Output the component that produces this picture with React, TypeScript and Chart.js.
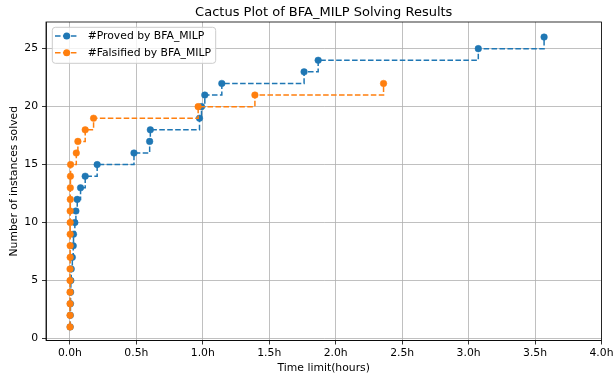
import { useEffect, useRef } from "react";
import { Chart, registerables } from "chart.js";

Chart.register(...registerables);

const FONT = "DejaVu Sans";

const titleText = "Cactus Plot of BFA_MILP Solving Results";
const xLabel = "Time limit(hours)";
const yLabel = "Number of instances solved";
const seriesNames = ["#Proved by BFA_MILP", "#Falsified by BFA_MILP"];
const seriesColors = ["#1f77b4", "#ff7f0e"];

// Proved by BFA_MILP: time (hours) at which the n-th instance was solved
const provedTimes = [
  0.002, 0.003, 0.004, 0.005, 0.007, 0.01, 0.018, 0.025, 0.027, 0.037,
  0.045, 0.055, 0.08, 0.115, 0.205, 0.482, 0.6, 0.605, 0.975, 0.99,
  1.015, 1.143, 1.762, 1.868, 3.073, 3.568,
];
const provedCounts = [
  1, 2, 3, 4, 5, 6, 7, 8, 9, 10, 11, 12, 13, 14, 15, 16, 17, 18, 19, 20,
  21, 22, 23, 24, 25, 26,
];

// Falsified by BFA_MILP
const falsifiedTimes = [
  0.001, 0.001, 0.001, 0.001, 0.001, 0.001, 0.002, 0.002, 0.002, 0.002,
  0.002, 0.003, 0.003, 0.004, 0.005, 0.048, 0.06, 0.115, 0.178, 0.965,
  1.392, 2.36,
];
const falsifiedCounts = [
  1, 2, 3, 4, 5, 6, 7, 8, 9, 10, 11, 12, 13, 14, 15, 16, 17, 18, 19, 20,
  21, 22,
];

const xTicks = [0, 0.5, 1.0, 1.5, 2.0, 2.5, 3.0, 3.5, 4.0];
const yTicks = [0, 5, 10, 15, 20, 25];

const DASH = [5.55, 2.4];

const framePlugin = {
  id: "frame",
  afterDatasetsDraw(chart: any) {
    const { ctx, chartArea } = chart;
    ctx.save();
    ctx.strokeStyle = "#000";
    ctx.lineWidth = 0.8;
    ctx.strokeRect(
      chartArea.left,
      chartArea.top,
      chartArea.right - chartArea.left,
      chartArea.bottom - chartArea.top
    );
    ctx.restore();
  },
};

const legendPlugin = {
  id: "insideLegend",
  afterDraw(chart: any) {
    const { ctx, chartArea } = chart;
    const x0 = chartArea.left + 6.3;
    const y0 = chartArea.top + 5.3;
    const w = 163.4;
    const h = 36;
    const r = 3;
    ctx.save();
    ctx.beginPath();
    ctx.moveTo(x0 + r, y0);
    ctx.lineTo(x0 + w - r, y0);
    ctx.arcTo(x0 + w, y0, x0 + w, y0 + r, r);
    ctx.lineTo(x0 + w, y0 + h - r);
    ctx.arcTo(x0 + w, y0 + h, x0 + w - r, y0 + h, r);
    ctx.lineTo(x0 + r, y0 + h);
    ctx.arcTo(x0, y0 + h, x0, y0 + h - r, r);
    ctx.lineTo(x0, y0 + r);
    ctx.arcTo(x0, y0, x0 + r, y0, r);
    ctx.closePath();
    ctx.fillStyle = "rgba(255,255,255,0.8)";
    ctx.fill();
    ctx.strokeStyle = "#cccccc";
    ctx.lineWidth = 1;
    ctx.stroke();

    chart.data.datasets.forEach((ds: any, i: number) => {
      const cy = y0 + 8.7 + i * 16.7;
      ctx.strokeStyle = ds.borderColor;
      ctx.lineWidth = 1.5;
      ctx.setLineDash(DASH);
      ctx.beginPath();
      ctx.moveTo(x0 + 2.7, cy);
      ctx.lineTo(x0 + 25.4, cy);
      ctx.stroke();
      ctx.setLineDash([]);
      ctx.fillStyle = ds.borderColor;
      ctx.beginPath();
      ctx.arc(x0 + 14.4, cy, 3.5, 0, Math.PI * 2);
      ctx.fill();
      ctx.fillStyle = "#000";
      ctx.font = `10.8px "${FONT}"`;
      ctx.textAlign = "left";
      ctx.textBaseline = "middle";
      ctx.fillText(ds.label, x0 + 35.4, cy + 0.5);
    });
    ctx.restore();
  },
};

export default function App() {
  const canvasRef = useRef<HTMLCanvasElement | null>(null);

  useEffect(() => {
    document.body.style.margin = "0";
    const canvas = canvasRef.current;
    if (!canvas) return;

    const makeData = (xs: number[], ys: number[]) =>
      xs.map((x, i) => ({ x, y: ys[i] }));

    const dsBase = (i: number, data: any[]) => ({
      label: seriesNames[i],
      data,
      borderColor: seriesColors[i],
      backgroundColor: seriesColors[i],
      pointBackgroundColor: seriesColors[i],
      pointBorderColor: seriesColors[i],
      pointBorderWidth: 0.5,
      pointRadius: 3.3,
      borderWidth: 1.5,
      borderDash: DASH,
      stepped: "before" as const,
      fill: false,
      tension: 0,
      order: 2 - i,
    });

    const tickFont = { family: FONT, size: 10.8 };

    const chart = new Chart(canvas, {
      type: "line",
      data: {
        datasets: [
          dsBase(0, makeData(provedTimes, provedCounts)),
          dsBase(1, makeData(falsifiedTimes, falsifiedCounts)),
        ],
      },
      options: {
        animation: false,
        responsive: false,
        devicePixelRatio: 1,
        events: [],
        layout: { padding: { left: 0, right: 12, top: 0, bottom: 0 } },
        plugins: {
          legend: { display: false },
          tooltip: { enabled: false },
          title: {
            display: true,
            fullSize: false,
            text: titleText,
            color: "#000",
            font: { family: FONT, size: 13, weight: "normal" },
            padding: { top: 4.5, bottom: 1.9 },
          },
        },
        scales: {
          x: {
            type: "linear",
            min: -0.18,
            max: 4.0,
            afterBuildTicks: (axis: any) => {
              axis.ticks = xTicks.map((v) => ({ value: v }));
            },
            afterFit: (axis: any) => {
              axis.height = 37.5;
            },
            ticks: {
              callback: (v: any) => Number(v).toFixed(1) + "h",
              font: tickFont,
              color: "#000",
              padding: 2.5,
              maxRotation: 0,
              autoSkip: false,
            },
            grid: {
              color: "#b0b0b0",
              lineWidth: 0.8,
              tickColor: "#000",
              tickLength: 4,
              tickWidth: 0.8,
            },
            border: { color: "#000", width: 0.8 },
            title: {
              display: true,
              text: xLabel,
              color: "#000",
              font: tickFont,
              padding: { top: 0, bottom: 3.5 },
            },
          },
          y: {
            type: "linear",
            min: -0.17,
            max: 27.3,
            afterBuildTicks: (axis: any) => {
              axis.ticks = yTicks.map((v) => ({ value: v }));
            },
            afterFit: (axis: any) => {
              axis.width = 46;
            },
            ticks: {
              callback: (v: any) => String(v),
              font: tickFont,
              color: "#000",
              padding: 4,
              autoSkip: false,
            },
            grid: {
              color: "#b0b0b0",
              lineWidth: 0.8,
              tickColor: "#000",
              tickLength: 4,
              tickWidth: 0.8,
            },
            border: { color: "#000", width: 0.8 },
            title: {
              display: true,
              text: yLabel,
              color: "#000",
              font: tickFont,
              padding: { top: 7.8, bottom: 0 },
            },
          },
        },
      },
      plugins: [framePlugin, legendPlugin],
    } as any);

    return () => {
      chart.destroy();
    };
  }, []);

  return (
    <div style={{ width: 616, height: 378, position: "relative" }}>
      <canvas ref={canvasRef} width={616} height={378} />
    </div>
  );
}
